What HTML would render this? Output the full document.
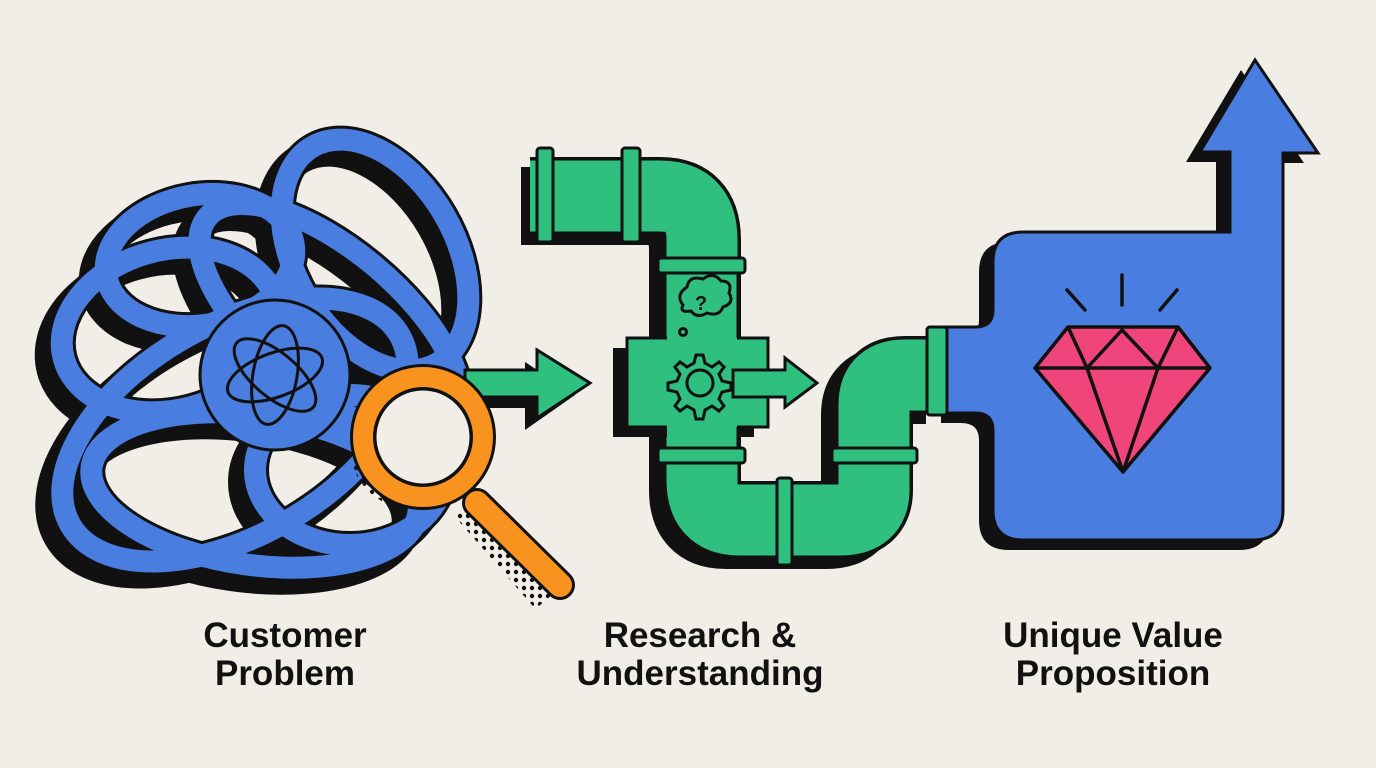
<!DOCTYPE html>
<html><head><meta charset="utf-8"><style>
html,body{margin:0;padding:0;background:#f1eee7;}
svg{display:block}
text{font-family:"Liberation Sans",sans-serif;font-weight:bold;font-size:35px;fill:#111;text-anchor:middle}
</style></head><body>
<svg width="1376" height="768" viewBox="0 0 1376 768">
<defs>
<pattern id="dots" width="8" height="8" patternUnits="userSpaceOnUse"><circle cx="4" cy="4" r="2.2" fill="#111"/></pattern>
</defs>
<rect width="1376" height="768" fill="#f1eee7"/>

<!-- Tangle -->
<g fill="none" stroke-linecap="round">
  <g transform="translate(-12,12)" stroke="#111" stroke-width="30">
    <ellipse cx="235" cy="430" rx="190" ry="105" transform="rotate(-30 235 430)"/>
    <ellipse cx="375" cy="255" rx="125" ry="80" transform="rotate(60 375 255)"/>
    <ellipse cx="170" cy="330" rx="110" ry="80" transform="rotate(-15 170 330)"/>
    <ellipse cx="255" cy="490" rx="165" ry="75" transform="rotate(8 255 490)"/>
    <ellipse cx="330" cy="320" rx="160" ry="70" transform="rotate(40 330 320)"/>
    <ellipse cx="200" cy="260" rx="95" ry="65" transform="rotate(-10 200 260)"/>
    <ellipse cx="350" cy="470" rx="95" ry="75"/>
  </g>
  <g stroke="#111" stroke-width="28">
    <ellipse cx="235" cy="430" rx="190" ry="105" transform="rotate(-30 235 430)"/>
    <ellipse cx="375" cy="255" rx="125" ry="80" transform="rotate(60 375 255)"/>
    <ellipse cx="170" cy="330" rx="110" ry="80" transform="rotate(-15 170 330)"/>
    <ellipse cx="255" cy="490" rx="165" ry="75" transform="rotate(8 255 490)"/>
    <ellipse cx="330" cy="320" rx="160" ry="70" transform="rotate(40 330 320)"/>
    <ellipse cx="200" cy="260" rx="95" ry="65" transform="rotate(-10 200 260)"/>
    <ellipse cx="350" cy="470" rx="95" ry="75"/>
  </g>
  <g stroke="#4a7de0" stroke-width="22">
    <ellipse cx="235" cy="430" rx="190" ry="105" transform="rotate(-30 235 430)"/>
    <ellipse cx="375" cy="255" rx="125" ry="80" transform="rotate(60 375 255)"/>
    <ellipse cx="170" cy="330" rx="110" ry="80" transform="rotate(-15 170 330)"/>
    <ellipse cx="255" cy="490" rx="165" ry="75" transform="rotate(8 255 490)"/>
    <ellipse cx="330" cy="320" rx="160" ry="70" transform="rotate(40 330 320)"/>
    <ellipse cx="200" cy="260" rx="95" ry="65" transform="rotate(-10 200 260)"/>
    <ellipse cx="350" cy="470" rx="95" ry="75"/>
  </g>
</g>
<circle cx="275" cy="375" r="75" fill="#4a7de0" stroke="#111" stroke-width="3"/>
<g fill="none" stroke="#111" stroke-width="3">
  <ellipse cx="275" cy="375" rx="50" ry="22" transform="rotate(-20 275 375)"/>
  <ellipse cx="275" cy="375" rx="50" ry="22" transform="rotate(40 275 375)"/>
  <ellipse cx="275" cy="375" rx="50" ry="22" transform="rotate(100 275 375)"/>
</g>

<!-- left arrow -->
<path d="M452,381 H525 V362 L575,395 L525,430 V408 H452 Z" fill="#111"/>
<path d="M465,370 H537 V350 L590,383 L537,418 V397 H465 Z" fill="#2fbf7f" stroke="#111" stroke-width="3"/>

<!-- Magnifier -->
<circle cx="412" cy="447" r="62" fill="url(#dots)"/>
<path d="M466,508 L546,600" stroke="url(#dots)" stroke-width="28"/>
<path d="M477,503 L560,585" stroke="#111" stroke-width="30" stroke-linecap="round"/>
<path d="M477,503 L560,585" stroke="#f7931e" stroke-width="24" stroke-linecap="round"/>
<circle cx="423" cy="437" r="60" fill="none" stroke="#111" stroke-width="26"/>
<circle cx="423" cy="437" r="60" fill="none" stroke="#f7931e" stroke-width="20"/>
<circle cx="423" cy="437" r="48" fill="#f1eee7" stroke="#111" stroke-width="3"/>

<!-- Pipes -->
<g fill="none" stroke-linejoin="round">
  <path transform="translate(-14,10)" d="M535,196 H660 Q702,196 702,240 V480 Q702,520 740,520 H840 Q874,520 874,490 V405 Q874,375 905,375 H940" stroke="#111" stroke-width="78"/>
  <path d="M530,196 H660 Q702,196 702,240 V480 Q702,520 740,520 H840 Q874,520 874,490 V405 Q874,375 905,375 H940" stroke="#111" stroke-width="78"/>
  <path d="M530,196 H660 Q702,196 702,240 V480 Q702,520 740,520 H840 Q874,520 874,490 V405 Q874,375 905,375 H940" stroke="#2fbf7f" stroke-width="71"/>
</g>
<!-- body block -->
<rect x="613" y="348" width="141" height="89" fill="#111"/>
<rect x="627" y="338" width="141" height="89" fill="#2fbf7f" stroke="#111" stroke-width="3"/>
<rect x="667" y="272" width="70" height="178" fill="#2fbf7f"/>
<path d="M665,273 V338 M738,273 V338 M665,427 V450 M738,427 V450" stroke="#111" stroke-width="3"/>
<!-- flanges -->
<g fill="#2fbf7f" stroke="#111" stroke-width="3">
  <rect x="537" y="148" width="16" height="94" rx="3"/>
  <rect x="622" y="148" width="18" height="94" rx="3"/>
  <rect x="658" y="258" width="87" height="15" rx="3"/>
  <rect x="658" y="448" width="87" height="15" rx="3"/>
  <rect x="832" y="448" width="85" height="15" rx="3"/>
  <rect x="777" y="478" width="15" height="87" rx="3"/>
  <rect x="927" y="327" width="20" height="88" rx="3"/>
</g>
<!-- thought + gear -->
<g fill="none" stroke="#111" stroke-width="3">
  <path d="M683,305 q-8,-10 4,-18 q2,-12 16,-8 q10,-8 18,2 q12,0 8,12 q6,10 -6,14 q-4,10 -16,6 q-10,6 -16,-2 q-12,2 -8,-6z"/>
  <circle cx="683" cy="332" r="3.5"/>
  <text x="701" y="310" style="font-size:20px;fill:#111;stroke:none">?</text>
  <circle cx="700" cy="383" r="13"/>
  <path d="M700,355 l6,0 2,8 7,4 7,-5 5,5 -5,7 3,7 9,2 0,7 -9,2 -3,7 5,7 -5,5 -7,-5 -7,4 -2,9 -7,0 -2,-9 -7,-4 -7,5 -5,-5 5,-7 -3,-7 -9,-2 0,-7 9,-2 3,-7 -5,-7 5,-5 7,5 7,-4 2,-8z" transform="translate(-3,0)"/>
</g>
<path d="M733,370 H785 V358 L817,383 L785,407 V397 H733 Z" fill="#2fbf7f" stroke="#111" stroke-width="3"/>

<!-- Blue box -->
<path transform="translate(-14,10)" d="M1023,232 H1230 V152 H1200 L1255,60 L1318,153 H1283 V510 Q1283,540 1253,540 H1023 Q993,540 993,510 V430 Q993,413 975,413 H955 V327 H975 Q993,327 993,310 V262 Q993,232 1023,232 Z" fill="#111"/>
<path d="M1023,232 H1230 V152 H1200 L1255,60 L1318,153 H1283 V510 Q1283,540 1253,540 H1023 Q993,540 993,510 V430 Q993,413 975,413 H945 V327 H975 Q993,327 993,310 V262 Q993,232 1023,232 Z" fill="#4a7de0" stroke="#111" stroke-width="3"/>
<rect x="927" y="327" width="20" height="88" rx="3" fill="#2fbf7f" stroke="#111" stroke-width="3"/>
<g stroke="#111" stroke-width="3.5" fill="#f0457a" stroke-linejoin="round">
  <path d="M1068,327 H1178 L1210,368 L1123,472 L1035,368 Z"/>
  <path d="M1035,368 H1210 M1068,327 L1087,368 L1123,472 L1158,368 L1178,327 M1087,368 L1122,330 L1158,368" fill="none"/>
  <path d="M1067,290 L1085,310 M1122,275 V305 M1177,290 L1160,310" fill="none" stroke-linecap="round"/>
</g>

<!-- Labels -->
<text x="285" y="647">Customer</text>
<text x="285" y="685">Problem</text>
<text x="700" y="647">Research &amp;</text>
<text x="700" y="685">Understanding</text>
<text x="1113" y="647">Unique Value</text>
<text x="1113" y="685">Proposition</text>
</svg>
</body></html>
